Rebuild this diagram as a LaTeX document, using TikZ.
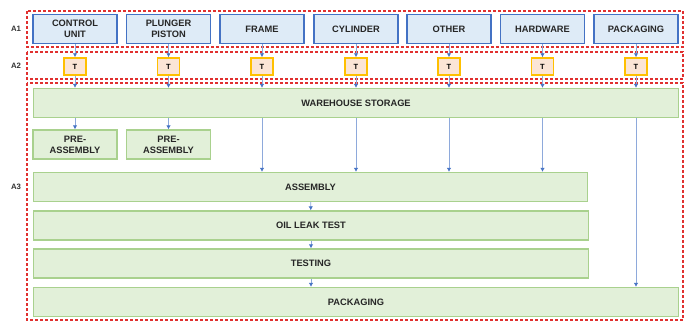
\documentclass[tikz,border=0pt]{standalone}
\usepackage{fontspec}
\setmainfont{Liberation Sans}
\usetikzlibrary{arrows.meta}

\definecolor{partblue}{HTML}{4472C4}
\definecolor{partfill}{HTML}{DEEBF7}
\definecolor{tfill}{HTML}{FBE5D6}
\definecolor{tline}{HTML}{FFC000}
\definecolor{stepfill}{HTML}{E2F0D9}
\definecolor{stepline}{HTML}{A9D18E}
\definecolor{zonered}{HTML}{E0302F}
\definecolor{flowline}{HTML}{8EA9DB}

\begin{document}
\begin{tikzpicture}[x=1pt, y=-1pt,
  font=\fontsize{9.3}{11}\selectfont\bfseries,
  part/.style={draw=partblue, fill=partfill, line width=1.3pt, minimum width=84pt, minimum height=29pt, inner sep=0pt, align=center, text=black!85},
  tbox/.style={draw=tline, fill=tfill, line width=1.5pt, minimum width=22pt, minimum height=17pt, inner sep=0pt, font=\fontsize{7.5}{9}\selectfont\bfseries},
  stepbox/.style={draw=stepline, fill=stepfill, line width=1.3pt, minimum height=29pt, inner sep=0pt, align=center, text=black!85},
  zone/.style={draw=zonered, line width=1.2pt, dash pattern=on 3pt off 2pt},
  zonelabel/.style={font=\fontsize{7.8}{9}\selectfont\bfseries, text=black!80},
  flow/.style={draw=flowline, line width=0.9pt, -{Latex[length=4pt, width=4.5pt, color=partblue]}}]
  \useasboundingbox (0,0) rectangle (688,322);

  % Zones
  \draw[zone] (27,11) rectangle (683,47);
  \draw[zone] (27,52) rectangle (683,79);
  \draw[zone] (27,83) rectangle (683,320);
  \node[zonelabel] (la1) at (16,29) {A1};
  \node[zonelabel] (la2) at (16,66) {A2};
  \node[zonelabel] (la3) at (16,187) {A3};

  % Parts
  \node[part] (cu) at (75,29) {CONTROL\\UNIT};
  \node[part] (pp) at (168.5,29) {PLUNGER\\PISTON};
  \node[part] (fr) at (262,29) {FRAME};
  \node[part] (cy) at (356,29) {CYLINDER};
  \node[part] (ot) at (449,29) {OTHER};
  \node[part] (hw) at (542.5,29) {HARDWARE};
  \node[part] (pk) at (636,29) {PACKAGING};

  % Transport
  \node[tbox] (tcu) at (75,66.5) {T};
  \node[tbox] (tpp) at (168.5,66.5) {T};
  \node[tbox] (tfr) at (262,66.5) {T};
  \node[tbox] (tcy) at (356,66.5) {T};
  \node[tbox] (tot) at (449,66.5) {T};
  \node[tbox] (thw) at (542.5,66.5) {T};
  \node[tbox] (tpk) at (636,66.5) {T};

  % Process steps
  \node[stepbox, minimum width=645pt] (ws) at (356,103) {WAREHOUSE STORAGE};
  \node[stepbox, minimum width=84pt] (pa1) at (75,144.5) {PRE-\\ASSEMBLY};
  \node[stepbox, minimum width=84pt] (pa2) at (168.5,144.5) {PRE-\\ASSEMBLY};
  \node[stepbox, minimum width=554pt] (asm) at (310.5,187) {ASSEMBLY};
  \node[stepbox, minimum width=555pt] (olt) at (311,225.5) {OIL LEAK TEST};
  \node[stepbox, minimum width=555pt] (tst) at (311,263.5) {TESTING};
  \node[stepbox, minimum width=645pt] (pkg) at (356,302) {PACKAGING};

  % Flow
  \draw[flow] (cu) -- (tcu);
  \draw[flow] (pp) -- (tpp);
  \draw[flow] (fr) -- (tfr);
  \draw[flow] (cy) -- (tcy);
  \draw[flow] (ot) -- (tot);
  \draw[flow] (hw) -- (thw);
  \draw[flow] (pk) -- (tpk);
  \draw[flow] (tcu) -- (ws.north -| tcu);
  \draw[flow] (tpp) -- (ws.north -| tpp);
  \draw[flow] (tfr) -- (ws.north -| tfr);
  \draw[flow] (tcy) -- (ws.north -| tcy);
  \draw[flow] (tot) -- (ws.north -| tot);
  \draw[flow] (thw) -- (ws.north -| thw);
  \draw[flow] (tpk) -- (ws.north -| tpk);
  \draw[flow] (ws.south -| pa1) -- (pa1);
  \draw[flow] (ws.south -| pa2) -- (pa2);
  \draw[flow] (ws.south -| fr) -- (asm.north -| fr);
  \draw[flow] (ws.south -| cy) -- (asm.north -| cy);
  \draw[flow] (ws.south -| ot) -- (asm.north -| ot);
  \draw[flow] (ws.south -| hw) -- (asm.north -| hw);
  \draw[flow] (ws.south -| pk) -- (pkg.north -| pk);
  \draw[flow] (asm) -- (olt);
  \draw[flow] (olt) -- (tst);
  \draw[flow] (tst) -- (pkg.north -| tst);
\end{tikzpicture}
\end{document}
